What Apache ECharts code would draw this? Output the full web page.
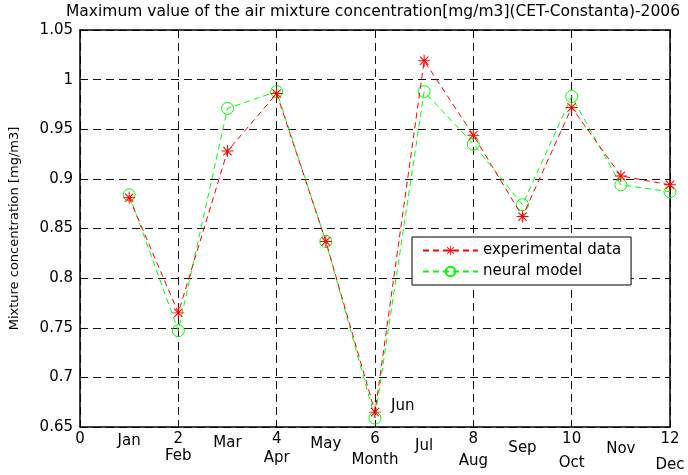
<!DOCTYPE html>
<html>
<head>
<meta charset="utf-8">
<script src="https://cdn.jsdelivr.net/npm/echarts@6/dist/echarts.min.js"></script>
<style>html,body{margin:0;padding:0;background:#fff;}#c{width:688px;height:475px;}</style>
</head>
<body>
<div id="c"></div>
<script>
// ---- data ----
const titleText = 'Maximum value of the air mixture concentration[mg/m3](CET-Constanta)-2006';
const yAxisTitle = 'Mixture concentration [mg/m3]';
const monthNames = ['Jan','Feb','Mar','Apr','May','Month','Jul','Aug','Sep','Oct','Nov','Dec'];
const monthIndex = [1,2,3,4,5,6,7,8,9,10,11,12];
const experimental = [0.881,0.765,0.928,0.986,0.837,0.665,1.019,0.944,0.862,0.972,0.903,0.894];
const neural = [0.884,0.747,0.971,0.988,0.837,0.659,0.988,0.935,0.874,0.983,0.894,0.887];
const seriesNames = ['experimental data','neural model'];
const annotationText = 'Jun';
const xTicks = [0,2,4,6,8,10,12];
const yTicks = [0.65,0.7,0.75,0.8,0.85,0.9,0.95,1,1.05];

const FONT = 'DejaVu Sans';
const starPath = 'path://M0 46H100V54H0Z M46 0H54V100H46Z M12 18L18 12L88 82L82 88Z M82 12L88 18L18 88L12 82Z';

const chart = echarts.init(document.getElementById('c'), null, {renderer:'canvas'});

const gridLine = {show:true, lineStyle:{color:'#111', type:[8,5], width:1}};
const axisLineStyle = {show:true, onZero:false, lineStyle:{color:'#000', width:1.5}};

const option = {
  animation:false,
  backgroundColor:'#fff',
  grid:{left:77, right:18, top:30, bottom:48},
  xAxis:[{
    type:'value', min:xTicks[0], max:xTicks[xTicks.length-1], interval:2,
    axisLine:axisLineStyle,
    axisTick:{show:true, inside:true, length:5, lineStyle:{color:'#000'}},
    axisLabel:{fontFamily:FONT, fontSize:15, color:'#000', margin:5},
    splitLine:gridLine
  },{
    type:'value', position:'top', min:xTicks[0], max:xTicks[xTicks.length-1], interval:2,
    axisLine:axisLineStyle,
    axisTick:{show:true, inside:true, length:5, lineStyle:{color:'#000'}},
    axisLabel:{show:false}, splitLine:{show:false}
  }],
  yAxis:[{
    type:'value', min:yTicks[0], max:yTicks[yTicks.length-1], interval:0.05,
    axisLine:axisLineStyle,
    axisTick:{show:true, inside:true, length:5, lineStyle:{color:'#000'}},
    axisLabel:{fontFamily:FONT, fontSize:15, color:'#000', margin:7,
      formatter:v=>String(+v.toFixed(2))},
    splitLine:gridLine,
    name:yAxisTitle, nameLocation:'middle', nameGap:59,
    nameTextStyle:{fontFamily:FONT, fontSize:13, color:'#000'}
  },{
    type:'value', position:'right', min:yTicks[0], max:yTicks[yTicks.length-1], interval:0.05,
    axisLine:axisLineStyle,
    axisTick:{show:true, inside:true, length:5, lineStyle:{color:'#000'}},
    axisLabel:{show:false}, splitLine:{show:false}
  }],
  legend:{
    orient:'vertical', left:412, top:237,
    backgroundColor:'#fff', borderColor:'#000', borderWidth:1,
    padding:[6,10,6,10], itemGap:6, itemWidth:55, itemHeight:12,
    textStyle:{fontFamily:FONT, fontSize:15, color:'#000'},
    data:seriesNames
  },
  series:[{
    name:seriesNames[0], type:'line', xAxisIndex:0, yAxisIndex:0,
    data:monthIndex.map((m,i)=>{
      const item = {value:[m, experimental[i]]};
      if (i===5) item.label = {show:true, formatter:annotationText, position:'right', distance:10, offset:[0,-6],
        fontFamily:FONT, fontSize:15, color:'#000'};
      return item;
    }),
    symbol:starPath, symbolSize:12, showAllSymbol:true,
    itemStyle:{color:'#ff0000'},
    lineStyle:{color:'#ff0000', width:1, type:[6,4]},
    z:3
  },{
    name:seriesNames[1], type:'line', xAxisIndex:0, yAxisIndex:0,
    data:monthIndex.map((m,i)=>[m, neural[i]]),
    symbol:'circle', symbolSize:12, showAllSymbol:true,
    itemStyle:{color:'rgba(0,0,0,0)', borderColor:'#00ff00', borderWidth:1},
    lineStyle:{color:'#00ff00', width:1, type:[6,4]},
    z:2
  }]
};
chart.setOption(option);

// title and month annotations as text
const g = [];
g.push({type:'text', x:373, y:4, style:{text:titleText, fontFamily:FONT, fontSize:15.5, fill:'#000', textAlign:'center', textVerticalAlign:'top'}});
monthNames.forEach((name,i)=>{
  const px = chart.convertToPixel({xAxisIndex:0}, monthIndex[i]);
  const odd = i % 2 === 1;
  const py = 441 + 0.85*i + (odd ? 14.5 : 0);
  g.push({type:'text', x:px, y:py, style:{text:name, fontFamily:FONT, fontSize:15, fill:'#000', textAlign:'center', textVerticalAlign:'middle'}});
});
chart.setOption({graphic:g});
</script>
</body>
</html>
